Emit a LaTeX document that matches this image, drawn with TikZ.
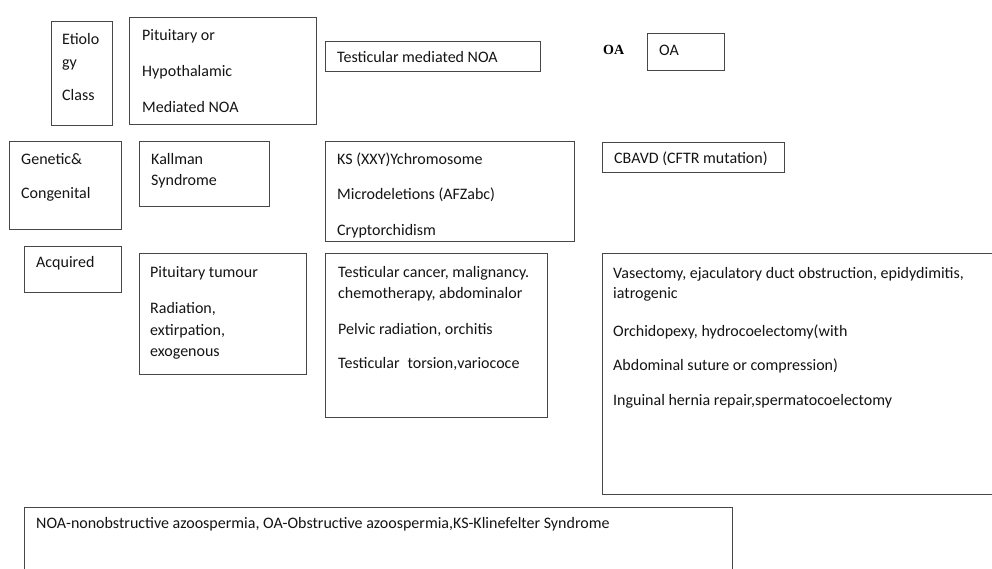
\documentclass[tikz,border=0pt]{standalone}
\usepackage{fontspec}
\setmainfont{Carlito}
\newfontfamily\oaserif{Liberation Serif}
\begin{document}
\begin{tikzpicture}[x=1pt,y=-1pt,
  box/.style={draw=black!72, line width=1.3pt, rectangle, inner sep=0pt, anchor=north west},
  txt/.style={anchor=base west, inner sep=0pt, text=black!92, font=\fontsize{16}{19}\selectfont}]
\useasboundingbox (0,0) rectangle (992,568);
\clip (0,0) rectangle (992,568);
% boxes
\node[box, minimum width=61pt, minimum height=104pt] (etio) at (51,21) {};
\node[box, minimum width=187pt, minimum height=107pt] (pit) at (129,17) {};
\node[box, minimum width=215pt, minimum height=30pt] (test) at (325,41) {};
\node[box, minimum width=77pt, minimum height=37pt] (oabox) at (647,33) {};
\node[box, minimum width=112pt, minimum height=88pt] (gen) at (9,141) {};
\node[box, minimum width=130pt, minimum height=65pt] (kall) at (139,141) {};
\node[box, minimum width=249pt, minimum height=100pt] (ks) at (325,141) {};
\node[box, minimum width=182pt, minimum height=30pt] (cbavd) at (602,142) {};
\node[box, minimum width=97pt, minimum height=46pt] (acq) at (24,246) {};
\node[box, minimum width=167pt, minimum height=121pt] (ptum) at (139,253) {};
\node[box, minimum width=222pt, minimum height=164pt] (tcan) at (325,253) {};
\node[box, minimum width=400pt, minimum height=241pt] (vas) at (602,253) {};
\node[box, minimum width=708pt, minimum height=80pt] (leg) at (24,507) {};
% texts
\node[txt] (e1) at (62,44) {Etiolo};
\node[txt] (e2) at (62,67) {gy};
\node[txt] (e3) at (62,100) {Class};
\node[txt] (p1) at (142,40) {Pituitary or};
\node[txt] (p2) at (142,76) {Hypothalamic};
\node[txt] (p3) at (142,112) {Mediated NOA};
\node[txt] (t1) at (337,62) {Testicular mediated NOA};
\node[anchor=base west, inner sep=0pt, font=\oaserif\bfseries\fontsize{14}{16}\selectfont] (oalab) at (603,54) {OA};
\node[txt] (o1) at (659,55) {OA};
\node[txt] (g1) at (21,164) {Genetic\&};
\node[txt] (g2) at (21,198) {Congenital};
\node[txt] (k1) at (151,164) {Kallman};
\node[txt] (k2) at (151,185) {Syndrome};
\node[txt] (s1) at (337,164) {KS (XXY)Ychromosome};
\node[txt] (s2) at (337,199) {Microdeletions (AFZabc)};
\node[txt] (s3) at (337,235) {Cryptorchidism};
\node[txt] (c1) at (614,163) {CBAVD (CFTR mutation)};
\node[txt] (a1) at (36,267) {Acquired};
\node[txt] (u1) at (150,277) {Pituitary tumour};
\node[txt] (u2) at (150,313) {Radiation,};
\node[txt] (u3) at (150,335) {extirpation,};
\node[txt] (u4) at (150,356) {exogenous};
\node[txt] (x1) at (338,277) {Testicular cancer, malignancy.};
\node[txt] (x2) at (338,298) {chemotherapy, abdominalor};
\node[txt] (x3) at (338,334) {Pelvic radiation, orchitis};
\node[txt] (x4) at (338,368) {Testicular\hspace{8pt}torsion,variococe};
\node[txt] (v1) at (613,278) {Vasectomy, ejaculatory duct obstruction, epidydimitis,};
\node[txt] (v2) at (613,298) {iatrogenic};
\node[txt] (v3) at (613,336) {Orchidopexy, hydrocoelectomy(with};
\node[txt] (v4) at (613,370) {Abdominal suture or compression)};
\node[txt] (v5) at (613,405) {Inguinal hernia repair,spermatocoelectomy};
\node[txt] (l1) at (36,528) {NOA-nonobstructive azoospermia, OA-Obstructive azoospermia,KS-Klinefelter Syndrome};
\end{tikzpicture}
\end{document}
